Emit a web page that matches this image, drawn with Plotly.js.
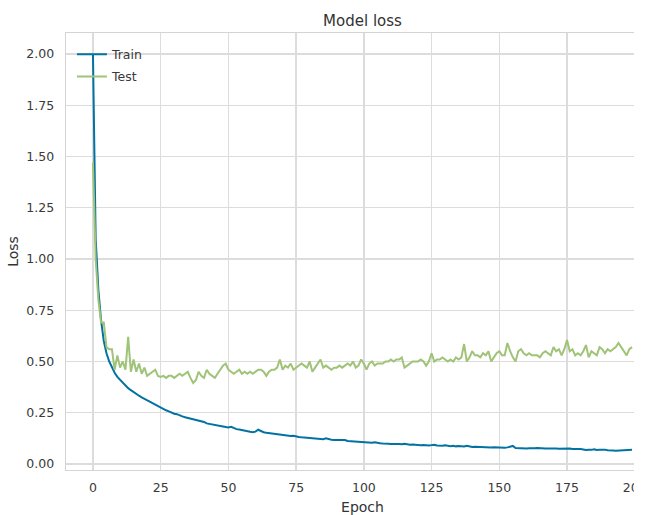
<!DOCTYPE html>
<html>
<head>
<meta charset="utf-8">
<script src="https://cdn.plot.ly/plotly-3.0.1.min.js"></script>
<style>
html,body{margin:0;padding:0;overflow:hidden;background:#fff;}
#clip{width:634px;height:515px;overflow:hidden;}
#chart{width:680px;height:515px;}
</style>
</head>
<body>
<div id="clip"><div id="chart"></div></div>
<script>
const trainLoss = [
2.00,1.10,0.85,0.70,0.60,0.54,0.50,0.47,0.445,0.425,
0.41,0.395,0.38,0.37,0.36,0.35,0.34,0.333,0.325,0.318,
0.31,0.303,0.296,0.29,0.28,0.273,0.270,0.262,0.257,0.25,
0.245,0.243,0.236,0.232,0.228,0.225,0.22,0.216,0.213,0.21,
0.207,0.205,0.198,0.196,0.193,0.19,0.188,0.185,0.183,0.180,
0.178,0.181,0.174,0.170,0.168,0.165,0.160,0.158,0.157,0.155,
0.158,0.167,0.160,0.155,0.152,0.150,0.148,0.146,0.143,0.142,
0.140,0.139,0.138,0.136,0.138,0.134,0.132,0.130,0.129,0.128,
0.127,0.127,0.125,0.124,0.122,0.121,0.125,0.120,0.118,0.117,
0.117,0.115,0.114,0.117,0.112,0.111,0.110,0.112,0.108,0.107,
0.106,0.106,0.105,0.104,0.106,0.102,0.101,0.100,0.101,0.099,
0.098,0.099,0.097,0.097,0.096,0.099,0.095,0.094,0.095,0.093,
0.094,0.092,0.093,0.091,0.090,0.092,0.094,0.090,0.088,0.089,
0.091,0.088,0.087,0.089,0.086,0.088,0.087,0.085,0.089,0.086,
0.083,0.084,0.083,0.082,0.083,0.081,0.082,0.080,0.082,0.081,
0.079,0.080,0.079,0.081,0.085,0.088,0.078,0.077,0.076,0.077,
0.076,0.077,0.076,0.077,0.078,0.076,0.077,0.075,0.076,0.077,
0.075,0.076,0.074,0.075,0.076,0.074,0.075,0.073,0.074,0.075,
0.073,0.071,0.068,0.070,0.069,0.072,0.068,0.069,0.071,0.070,
0.067,0.068,0.066,0.065,0.066,0.065,0.066,0.067,0.068,0.070
];
const testLoss = [
1.47,1.00,0.80,0.69,0.69,0.57,0.56,0.56,0.46,0.53,
0.47,0.50,0.46,0.62,0.45,0.51,0.45,0.49,0.44,0.47,
0.43,0.44,0.45,0.46,0.43,0.425,0.43,0.42,0.43,0.43,
0.42,0.43,0.44,0.43,0.44,0.45,0.42,0.395,0.41,0.45,
0.43,0.42,0.46,0.44,0.43,0.42,0.44,0.46,0.48,0.49,
0.46,0.45,0.44,0.45,0.46,0.44,0.45,0.44,0.45,0.44,
0.45,0.46,0.46,0.45,0.43,0.45,0.46,0.46,0.47,0.51,
0.46,0.48,0.47,0.49,0.46,0.47,0.48,0.49,0.48,0.47,
0.50,0.45,0.47,0.49,0.51,0.47,0.48,0.47,0.46,0.47,
0.47,0.48,0.47,0.48,0.49,0.48,0.50,0.47,0.48,0.51,
0.49,0.46,0.49,0.50,0.48,0.49,0.49,0.49,0.50,0.50,
0.51,0.50,0.51,0.51,0.52,0.47,0.48,0.49,0.50,0.50,
0.50,0.51,0.50,0.48,0.50,0.54,0.50,0.51,0.51,0.52,
0.51,0.50,0.51,0.50,0.52,0.51,0.52,0.585,0.50,0.52,
0.55,0.53,0.53,0.52,0.54,0.53,0.55,0.50,0.52,0.54,
0.55,0.53,0.53,0.59,0.55,0.52,0.50,0.55,0.56,0.54,
0.53,0.54,0.53,0.53,0.53,0.52,0.54,0.55,0.54,0.53,
0.57,0.55,0.56,0.53,0.56,0.605,0.55,0.56,0.53,0.54,
0.53,0.55,0.58,0.52,0.55,0.54,0.53,0.57,0.56,0.54,
0.56,0.55,0.56,0.57,0.59,0.57,0.55,0.53,0.56,0.57
];
const epochs = trainLoss.map((_, i) => i);
const seriesNames = ['Train', 'Test'];
const xTicks = [0, 25, 50, 75, 100, 125, 150, 175, 200];
const yTicks = [0.00, 0.25, 0.50, 0.75, 1.00, 1.25, 1.50, 1.75, 2.00];

const font = 'DejaVu Sans, sans-serif';
const traces = [
  {x: epochs, y: trainLoss, name: seriesNames[0], mode: 'lines', legendgroup: 'a',
   line: {color: '#0272a2', width: 2}},
  {x: epochs, y: testLoss, name: seriesNames[1], mode: 'lines', legendgroup: 'b',
   line: {color: '#9fc377', width: 2}}
];
const axisCommon = {
  showgrid: true, gridcolor: '#dcdcdc', gridwidth: 1.3,
  zeroline: false, showline: true, linecolor: '#d4d4d4', linewidth: 1.3,
  mirror: true, ticks: '', tickfont: {family: font, size: 12.5, color: '#3a3a3a'}
};
const layout = {
  width: 680, height: 515,
  margin: {l: 66, r: 21, t: 33, b: 45},
  paper_bgcolor: '#ffffff', plot_bgcolor: '#ffffff',
  font: {family: font, color: '#3a3a3a'},
  title: {text: 'Model loss', font: {family: font, size: 15, color: '#333333'},
          x: 0.5, xref: 'paper', y: 1, yref: 'paper', yanchor: 'bottom', pad: {b: 7}},
  xaxis: Object.assign({}, axisCommon, {
    range: [-9.95, 208.95], tickvals: xTicks, ticktext: xTicks.map(String),
    ticklabelstandoff: 6,
    title: {text: 'Epoch', font: {family: font, size: 14, color: '#333333'}, standoff: 8}
  }),
  yaxis: Object.assign({}, axisCommon, {
    range: [-0.0293, 2.1024], tickvals: yTicks, ticktext: yTicks.map(v => v.toFixed(2)),
    ticklabelstandoff: 8,
    title: {text: 'Loss', font: {family: font, size: 14, color: '#333333'}, standoff: 4}
  }),
  showlegend: true,
  legend: {x: 0.01, y: 0.985, xanchor: 'left', yanchor: 'top', bgcolor: 'rgba(0,0,0,0)',
           traceorder: 'grouped', tracegroupgap: 3,
           font: {family: font, size: 12.5, color: '#3a3a3a'}}
};
Plotly.newPlot('chart', traces, layout, {displayModeBar: false, staticPlot: true});
</script>
</body>
</html>
